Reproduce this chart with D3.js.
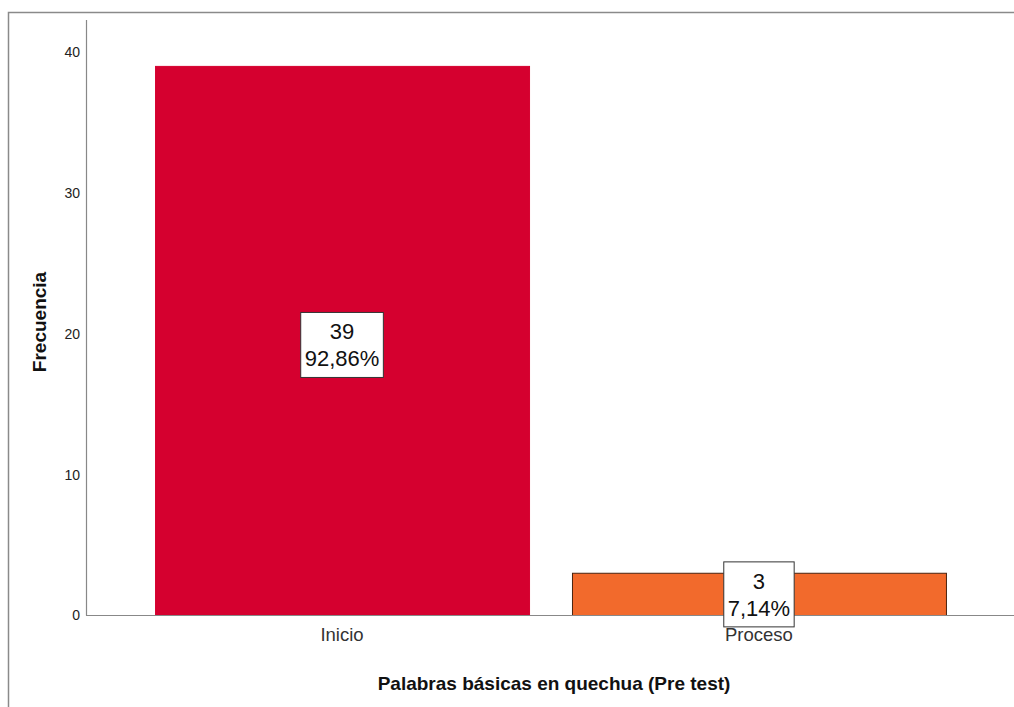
<!DOCTYPE html>
<html>
<head>
<meta charset="utf-8">
<script src="https://cdn.jsdelivr.net/npm/d3@7/dist/d3.min.js"></script>
<style>
  html, body { margin: 0; padding: 0; background: #fff; }
  svg { display: block; }
  text { font-family: "Liberation Sans", Arial, sans-serif; }
</style>
</head>
<body>
<svg id="chart" width="1014" height="707"></svg>
<script>
const categories = ["Inicio", "Proceso"];
const counts = [39, 3];
const percents = ["92,86%", "7,14%"];
const yTicks = [0, 10, 20, 30, 40];
const barColors = ["#D5002F", "#F26A2C"];
const barStrokes = ["#D5002F", "#4A2410"];

const svg = d3.select("#chart");
const W = 1014, H = 707;

// outer frame
svg.append("rect")
  .attr("x", 8.5).attr("y", 12.5)
  .attr("width", W + 10).attr("height", H + 10)
  .attr("fill", "none").attr("stroke", "#8a8a8a").attr("stroke-width", 1.5);

const x0 = 86, x1 = 1014, yBase = 615, yTop = 20;
const x = d3.scaleBand().domain(categories).range([x0, 1002])
  .paddingInner(0.103).paddingOuter(0.15).align(0.552);
const y = d3.scaleLinear().domain([0, 42.26]).range([yBase, yTop]);

// bars
svg.selectAll("rect.bar").data(categories).enter().append("rect")
  .attr("class", "bar")
  .attr("x", d => x(d) + 0.5)
  .attr("y", (d, i) => y(counts[i]) + 0.5)
  .attr("width", x.bandwidth())
  .attr("height", (d, i) => y(0) - y(counts[i]))
  .attr("fill", (d, i) => barColors[i])
  .attr("stroke", (d, i) => barStrokes[i])
  .attr("stroke-width", 1);

// axes lines
svg.append("line").attr("x1", x0 + 0.5).attr("x2", x0 + 0.5)
  .attr("y1", yTop).attr("y2", yBase + 0.5)
  .attr("stroke", "#888").attr("stroke-width", 1.2);
svg.append("line").attr("x1", x0).attr("x2", x1)
  .attr("y1", yBase + 0.5).attr("y2", yBase + 0.5)
  .attr("stroke", "#888").attr("stroke-width", 1.2);

// y tick labels
const yAxis = d3.axisLeft(y).tickValues(yTicks).tickSize(0).tickPadding(6).tickFormat(d3.format("d"));
const gy = svg.append("g").attr("transform", `translate(${x0},0)`).call(yAxis);
gy.select(".domain").remove();
gy.selectAll("text").attr("font-size", 14).attr("fill", "#222")
  .attr("font-family", "'Liberation Sans', Arial, sans-serif")
  .attr("dy", "0.35em");

// x tick labels
const xAxis = d3.axisBottom(x).tickSize(0).tickPadding(13);
const gx = svg.append("g").attr("transform", `translate(0,${yBase})`).call(xAxis);
gx.select(".domain").remove();
gx.selectAll("text").attr("font-size", 18.5).attr("fill", "#333")
  .attr("font-family", "'Liberation Sans', Arial, sans-serif");

// data labels
categories.forEach((c, i) => {
  const cx = x(c) + x.bandwidth() / 2;
  const cy = (y(counts[i]) + y(0)) / 2 + (i === 0 ? 4 : 0);
  const g = svg.append("g");
  const t1 = g.append("text").attr("x", cx).attr("y", cy - 5)
    .attr("text-anchor", "middle").attr("font-size", 22).attr("fill", "#111")
    .text(counts[i]);
  const t2 = g.append("text").attr("x", cx).attr("y", cy + 22)
    .attr("text-anchor", "middle").attr("font-size", 22).attr("fill", "#111")
    .text(percents[i]);
  const w = Math.max(t1.node().getComputedTextLength(), t2.node().getComputedTextLength()) + 8;
  g.insert("rect", "text")
    .attr("x", cx - w / 2).attr("y", cy - 32)
    .attr("width", w).attr("height", 65)
    .attr("fill", "#fff").attr("stroke", "#333").attr("stroke-width", 1);
});

// axis titles
svg.append("text").attr("x", 554).attr("y", 690)
  .attr("text-anchor", "middle").attr("font-size", 19).attr("font-weight", "bold")
  .attr("fill", "#111").text("Palabras básicas en quechua (Pre test)");
svg.append("text")
  .attr("transform", "translate(46,322) rotate(-90)")
  .attr("text-anchor", "middle").attr("font-size", 19).attr("font-weight", "bold")
  .attr("fill", "#111").text("Frecuencia");
</script>
</body>
</html>
